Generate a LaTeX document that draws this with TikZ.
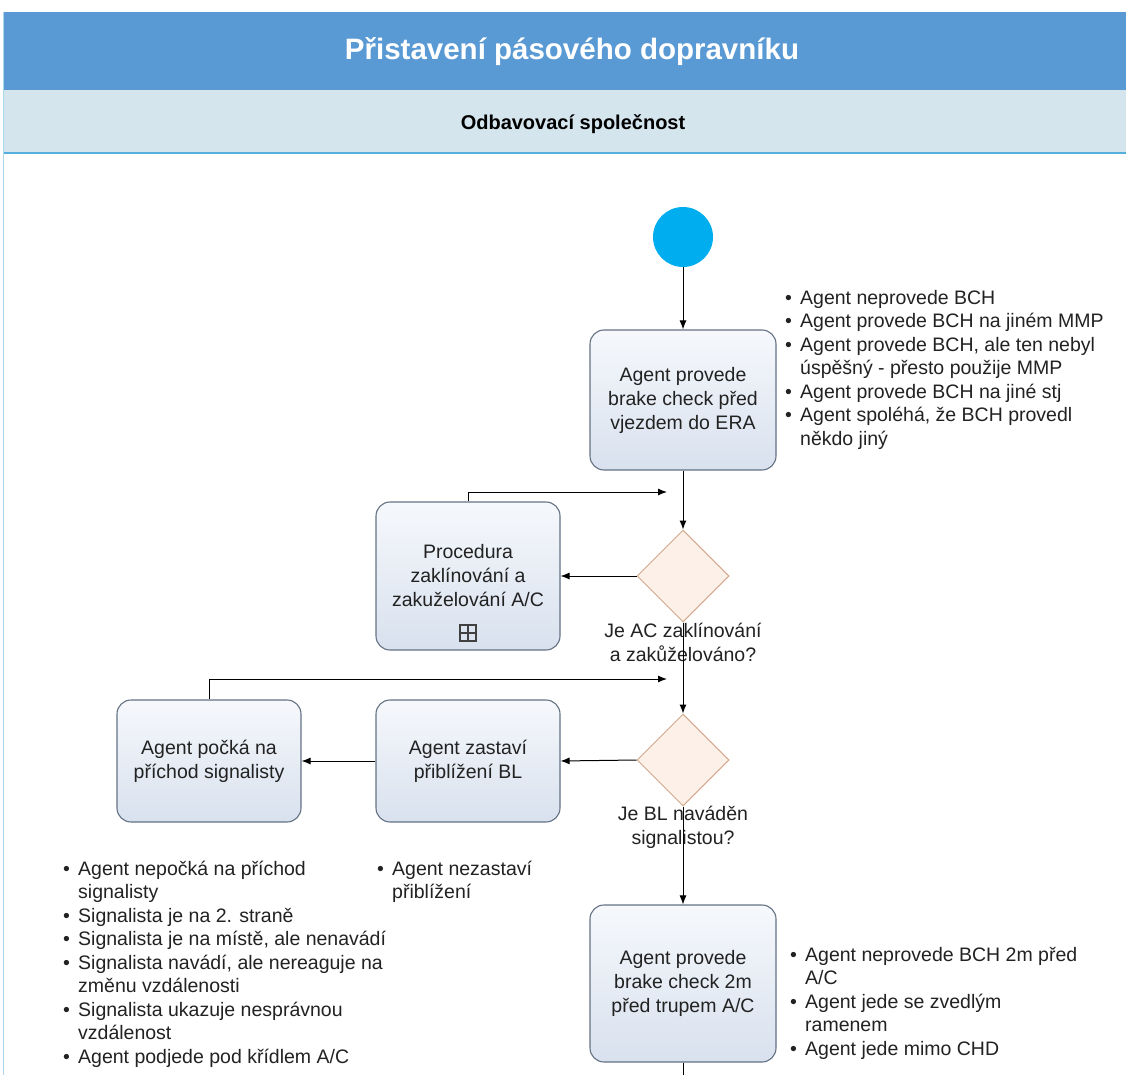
\documentclass[tikz,border=0pt]{standalone}
\usepackage{fontspec}
\setmainfont{Liberation Sans}
\usetikzlibrary{shapes.geometric,arrows.meta}

\definecolor{headblue}{RGB}{90,154,212}
\definecolor{subband}{RGB}{213,229,238}
\definecolor{poolline}{RGB}{84,175,220}
\definecolor{startblue}{RGB}{0,174,239}
\definecolor{taskline}{RGB}{100,114,132}
\definecolor{tasktop}{RGB}{246,248,252}
\definecolor{taskbot}{RGB}{216,225,238}
\definecolor{gatefill}{RGB}{253,240,232}
\definecolor{gateline}{RGB}{212,168,140}
\definecolor{ink}{RGB}{34,34,34}

% bullet and continuation indent for the note lists
\newcommand{\bul}{\makebox[15pt][l]{\textbullet}}
\newcommand{\cnt}{\hspace*{15pt}}

\tikzset{
  task/.style={draw=taskline, line width=1.1pt, rounded corners=14pt,
    top color=tasktop, bottom color=taskbot, align=center, text=ink,
    font=\fontsize{19.5}{24}\selectfont, inner sep=0pt},
  gate/.style={diamond, draw=gateline, fill=gatefill, line width=1pt,
    minimum width=92pt, minimum height=92pt, inner sep=0pt},
  flow/.style={draw=black, line width=1pt, -{Latex[length=9pt,width=7pt]}},
  plain/.style={draw=black, line width=1pt},
  note/.style={align=left, anchor=north west, inner sep=0pt, text=ink,
    font=\fontsize{19.5}{23.5}\selectfont},
  glabel/.style={align=center, inner sep=0pt, text=ink,
    font=\fontsize{19.5}{24}\selectfont},
}

\begin{document}
\begin{tikzpicture}[x=1pt, y=-1pt]
\useasboundingbox (0,0) rectangle (1126,1075);
\fill[white] (0,0) rectangle (1126,1075);

% pool header and lane header
\fill[headblue] (3,12) rectangle (1126,90);
\node[font=\fontsize{29.5}{32}\selectfont\bfseries, text=white] (title) at (572,52) {Přistavení pásového dopravníku};
\fill[subband] (3,90) rectangle (1126,152);
\node[font=\fontsize{20}{22}\selectfont\bfseries, text=black] (lane) at (573,124) {Odbavovací společnost};
\draw[poolline, line width=2pt] (3,153) -- (1126,153);
\draw[poolline!50, line width=1pt] (3.5,12) -- (3.5,1075);

% flow elements
\node[circle, fill=startblue, minimum size=60pt, inner sep=0pt] (start) at (683,237) {};
\node[task, minimum width=186pt, minimum height=140pt] (check1) at (683,400)
  {Agent provede\\brake check před\\vjezdem do ERA};
\node[gate] (gate1) at (683,576) {};
\node[glabel] (q1) at (683,642) {Je AC zaklínování\\a zakůželováno?};
\node[task, minimum width=184pt, minimum height=148pt] (wedge) at (468,576)
  {Procedura\\zaklínování a\\zakuželování A/C};
\node[draw=black!75, line width=1.3pt, minimum size=16pt, inner sep=0pt,
  path picture={\draw[black!75, line width=1.3pt]
    (path picture bounding box.north) -- (path picture bounding box.south)
    (path picture bounding box.west) -- (path picture bounding box.east);}]
  (sub) at (468,633) {};
\node[gate] (gate2) at (683,760) {};
\node[glabel] (q2) at (683,827) {Je BL naváděn\\signalistou?};
\node[task, minimum width=184pt, minimum height=122pt] (stop) at (468,761)
  {Agent zastaví\\přiblížení BL};
\node[task, minimum width=184pt, minimum height=122pt] (wait) at (209,761)
  {Agent počká na\\příchod signalisty};
\node[task, minimum width=186pt, minimum height=157pt] (check2) at (683,983.5)
  {Agent provede\\brake check 2m\\před trupem A/C};

\coordinate (back1) at (667,492);
\coordinate (back2) at (667,679);
\coordinate (exit) at (683,1075);

% connectors
\draw[flow] (start) -- (check1);
\draw[flow] (check1) -- (gate1);
\draw[flow] (gate1.west) -- (wedge.east);
\draw[flow] (wedge.north) |- (back1);
\draw[flow] (gate1) -- (gate2);
\draw[flow] (gate2.west) -- (stop.east);
\draw[flow] (stop.west) -- (wait.east);
\draw[flow] (wait.north) |- (back2);
\draw[flow] (gate2) -- (check2);
\draw[plain] (check2.south) -- (exit);

% risk notes
\node[note] (n1) at (785,287.5) {\strut\bul Agent neprovede BCH\\
  \bul Agent provede BCH na jiném MMP\\
  \bul Agent provede BCH, ale ten nebyl\\
  \cnt úspěšný - přesto použije MMP\\
  \bul Agent provede BCH na jiné stj\\
  \bul Agent spoléhá, že BCH provedl\\
  \cnt někdo jiný};
\node[note] (n2) at (63,858.5) {\strut\bul Agent nepočká na příchod\\
  \cnt signalisty\\
  \bul Signalista je na 2. straně\\
  \bul Signalista je na místě, ale nenavádí\\
  \bul Signalista navádí, ale nereaguje na\\
  \cnt změnu vzdálenosti\\
  \bul Signalista ukazuje nesprávnou\\
  \cnt vzdálenost\\
  \bul Agent podjede pod křídlem A/C};
\node[note] (n3) at (377,858.5) {\strut\bul Agent nezastaví\\
  \cnt přiblížení};
\node[note] (n4) at (790,944.5) {\strut\bul Agent neprovede BCH 2m před\\
  \cnt A/C\\
  \bul Agent jede se zvedlým\\
  \cnt ramenem\\
  \bul Agent jede mimo CHD};
\end{tikzpicture}
\end{document}
